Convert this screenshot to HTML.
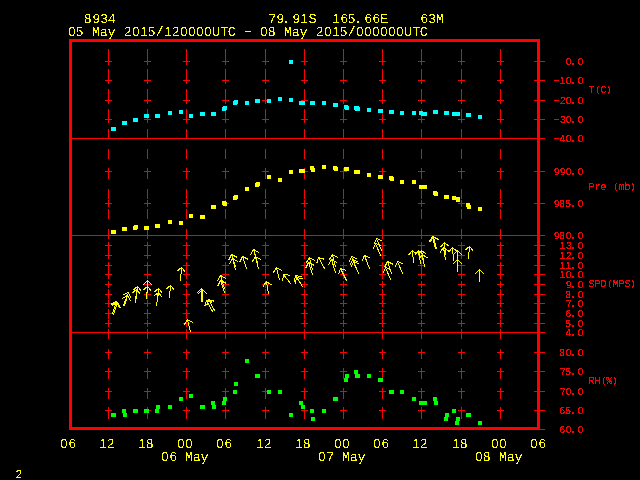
<!DOCTYPE html>
<html><head><meta charset="utf-8"><style>
html,body{margin:0;padding:0;background:#000;}
body{width:640px;height:480px;overflow:hidden;}
svg{display:block;}
text{font-family:"Liberation Mono",monospace;white-space:pre;text-rendering:geometricPrecision;}
text.b{font-size:13.333px;}
text.s{font-size:10px;}
</style></head><body>
<svg width="640" height="480" viewBox="0 0 640 480" shape-rendering="crispEdges">
<rect x="0" y="0" width="640" height="480" fill="#000"/>
<rect x="108" y="49" width="1" height="10" fill="#ff0000"/>
<rect x="108" y="69" width="1" height="10" fill="#ff0000"/>
<rect x="108" y="89" width="1" height="10" fill="#ff0000"/>
<rect x="108" y="109" width="1" height="10" fill="#ff0000"/>
<rect x="108" y="129" width="1" height="10" fill="#ff0000"/>
<rect x="108" y="149" width="1" height="10" fill="#ff0000"/>
<rect x="108" y="169" width="1" height="10" fill="#ff0000"/>
<rect x="108" y="189" width="1" height="10" fill="#ff0000"/>
<rect x="108" y="209" width="1" height="10" fill="#ff0000"/>
<rect x="108" y="229" width="1" height="10" fill="#ff0000"/>
<rect x="108" y="249" width="1" height="10" fill="#ff0000"/>
<rect x="108" y="269" width="1" height="10" fill="#ff0000"/>
<rect x="108" y="289" width="1" height="10" fill="#ff0000"/>
<rect x="108" y="309" width="1" height="10" fill="#ff0000"/>
<rect x="108" y="329" width="1" height="10" fill="#ff0000"/>
<rect x="108" y="349" width="1" height="10" fill="#ff0000"/>
<rect x="108" y="369" width="1" height="10" fill="#ff0000"/>
<rect x="108" y="389" width="1" height="10" fill="#ff0000"/>
<rect x="108" y="409" width="1" height="10" fill="#ff0000"/>
<rect x="147" y="49" width="1" height="10" fill="#ff0000"/>
<rect x="147" y="69" width="1" height="10" fill="#ff0000"/>
<rect x="147" y="89" width="1" height="10" fill="#ff0000"/>
<rect x="147" y="109" width="1" height="10" fill="#ff0000"/>
<rect x="147" y="129" width="1" height="10" fill="#ff0000"/>
<rect x="147" y="149" width="1" height="10" fill="#ff0000"/>
<rect x="147" y="169" width="1" height="10" fill="#ff0000"/>
<rect x="147" y="189" width="1" height="10" fill="#ff0000"/>
<rect x="147" y="209" width="1" height="10" fill="#ff0000"/>
<rect x="147" y="229" width="1" height="10" fill="#ff0000"/>
<rect x="147" y="249" width="1" height="10" fill="#ff0000"/>
<rect x="147" y="269" width="1" height="10" fill="#ff0000"/>
<rect x="147" y="289" width="1" height="10" fill="#ff0000"/>
<rect x="147" y="309" width="1" height="10" fill="#ff0000"/>
<rect x="147" y="329" width="1" height="10" fill="#ff0000"/>
<rect x="147" y="349" width="1" height="10" fill="#ff0000"/>
<rect x="147" y="369" width="1" height="10" fill="#ff0000"/>
<rect x="147" y="389" width="1" height="10" fill="#ff0000"/>
<rect x="147" y="409" width="1" height="10" fill="#ff0000"/>
<rect x="186" y="49" width="1" height="10" fill="#ff0000"/>
<rect x="186" y="69" width="1" height="10" fill="#ff0000"/>
<rect x="186" y="89" width="1" height="10" fill="#ff0000"/>
<rect x="186" y="109" width="1" height="10" fill="#ff0000"/>
<rect x="186" y="129" width="1" height="10" fill="#ff0000"/>
<rect x="186" y="149" width="1" height="10" fill="#ff0000"/>
<rect x="186" y="169" width="1" height="10" fill="#ff0000"/>
<rect x="186" y="189" width="1" height="10" fill="#ff0000"/>
<rect x="186" y="209" width="1" height="10" fill="#ff0000"/>
<rect x="186" y="229" width="1" height="10" fill="#ff0000"/>
<rect x="186" y="249" width="1" height="10" fill="#ff0000"/>
<rect x="186" y="269" width="1" height="10" fill="#ff0000"/>
<rect x="186" y="289" width="1" height="10" fill="#ff0000"/>
<rect x="186" y="309" width="1" height="10" fill="#ff0000"/>
<rect x="186" y="329" width="1" height="10" fill="#ff0000"/>
<rect x="186" y="349" width="1" height="10" fill="#ff0000"/>
<rect x="186" y="369" width="1" height="10" fill="#ff0000"/>
<rect x="186" y="389" width="1" height="10" fill="#ff0000"/>
<rect x="186" y="409" width="1" height="10" fill="#ff0000"/>
<rect x="225" y="49" width="1" height="10" fill="#ff0000"/>
<rect x="225" y="69" width="1" height="10" fill="#ff0000"/>
<rect x="225" y="89" width="1" height="10" fill="#ff0000"/>
<rect x="225" y="109" width="1" height="10" fill="#ff0000"/>
<rect x="225" y="129" width="1" height="10" fill="#ff0000"/>
<rect x="225" y="149" width="1" height="10" fill="#ff0000"/>
<rect x="225" y="169" width="1" height="10" fill="#ff0000"/>
<rect x="225" y="189" width="1" height="10" fill="#ff0000"/>
<rect x="225" y="209" width="1" height="10" fill="#ff0000"/>
<rect x="225" y="229" width="1" height="10" fill="#ff0000"/>
<rect x="225" y="249" width="1" height="10" fill="#ff0000"/>
<rect x="225" y="269" width="1" height="10" fill="#ff0000"/>
<rect x="225" y="289" width="1" height="10" fill="#ff0000"/>
<rect x="225" y="309" width="1" height="10" fill="#ff0000"/>
<rect x="225" y="329" width="1" height="10" fill="#ff0000"/>
<rect x="225" y="349" width="1" height="10" fill="#ff0000"/>
<rect x="225" y="369" width="1" height="10" fill="#ff0000"/>
<rect x="225" y="389" width="1" height="10" fill="#ff0000"/>
<rect x="225" y="409" width="1" height="10" fill="#ff0000"/>
<rect x="265" y="49" width="1" height="10" fill="#ff0000"/>
<rect x="265" y="69" width="1" height="10" fill="#ff0000"/>
<rect x="265" y="89" width="1" height="10" fill="#ff0000"/>
<rect x="265" y="109" width="1" height="10" fill="#ff0000"/>
<rect x="265" y="129" width="1" height="10" fill="#ff0000"/>
<rect x="265" y="149" width="1" height="10" fill="#ff0000"/>
<rect x="265" y="169" width="1" height="10" fill="#ff0000"/>
<rect x="265" y="189" width="1" height="10" fill="#ff0000"/>
<rect x="265" y="209" width="1" height="10" fill="#ff0000"/>
<rect x="265" y="229" width="1" height="10" fill="#ff0000"/>
<rect x="265" y="249" width="1" height="10" fill="#ff0000"/>
<rect x="265" y="269" width="1" height="10" fill="#ff0000"/>
<rect x="265" y="289" width="1" height="10" fill="#ff0000"/>
<rect x="265" y="309" width="1" height="10" fill="#ff0000"/>
<rect x="265" y="329" width="1" height="10" fill="#ff0000"/>
<rect x="265" y="349" width="1" height="10" fill="#ff0000"/>
<rect x="265" y="369" width="1" height="10" fill="#ff0000"/>
<rect x="265" y="389" width="1" height="10" fill="#ff0000"/>
<rect x="265" y="409" width="1" height="10" fill="#ff0000"/>
<rect x="304" y="49" width="1" height="10" fill="#ff0000"/>
<rect x="304" y="69" width="1" height="10" fill="#ff0000"/>
<rect x="304" y="89" width="1" height="10" fill="#ff0000"/>
<rect x="304" y="109" width="1" height="10" fill="#ff0000"/>
<rect x="304" y="129" width="1" height="10" fill="#ff0000"/>
<rect x="304" y="149" width="1" height="10" fill="#ff0000"/>
<rect x="304" y="169" width="1" height="10" fill="#ff0000"/>
<rect x="304" y="189" width="1" height="10" fill="#ff0000"/>
<rect x="304" y="209" width="1" height="10" fill="#ff0000"/>
<rect x="304" y="229" width="1" height="10" fill="#ff0000"/>
<rect x="304" y="249" width="1" height="10" fill="#ff0000"/>
<rect x="304" y="269" width="1" height="10" fill="#ff0000"/>
<rect x="304" y="289" width="1" height="10" fill="#ff0000"/>
<rect x="304" y="309" width="1" height="10" fill="#ff0000"/>
<rect x="304" y="329" width="1" height="10" fill="#ff0000"/>
<rect x="304" y="349" width="1" height="10" fill="#ff0000"/>
<rect x="304" y="369" width="1" height="10" fill="#ff0000"/>
<rect x="304" y="389" width="1" height="10" fill="#ff0000"/>
<rect x="304" y="409" width="1" height="10" fill="#ff0000"/>
<rect x="343" y="49" width="1" height="10" fill="#ff0000"/>
<rect x="343" y="69" width="1" height="10" fill="#ff0000"/>
<rect x="343" y="89" width="1" height="10" fill="#ff0000"/>
<rect x="343" y="109" width="1" height="10" fill="#ff0000"/>
<rect x="343" y="129" width="1" height="10" fill="#ff0000"/>
<rect x="343" y="149" width="1" height="10" fill="#ff0000"/>
<rect x="343" y="169" width="1" height="10" fill="#ff0000"/>
<rect x="343" y="189" width="1" height="10" fill="#ff0000"/>
<rect x="343" y="209" width="1" height="10" fill="#ff0000"/>
<rect x="343" y="229" width="1" height="10" fill="#ff0000"/>
<rect x="343" y="249" width="1" height="10" fill="#ff0000"/>
<rect x="343" y="269" width="1" height="10" fill="#ff0000"/>
<rect x="343" y="289" width="1" height="10" fill="#ff0000"/>
<rect x="343" y="309" width="1" height="10" fill="#ff0000"/>
<rect x="343" y="329" width="1" height="10" fill="#ff0000"/>
<rect x="343" y="349" width="1" height="10" fill="#ff0000"/>
<rect x="343" y="369" width="1" height="10" fill="#ff0000"/>
<rect x="343" y="389" width="1" height="10" fill="#ff0000"/>
<rect x="343" y="409" width="1" height="10" fill="#ff0000"/>
<rect x="382" y="49" width="1" height="10" fill="#ff0000"/>
<rect x="382" y="69" width="1" height="10" fill="#ff0000"/>
<rect x="382" y="89" width="1" height="10" fill="#ff0000"/>
<rect x="382" y="109" width="1" height="10" fill="#ff0000"/>
<rect x="382" y="129" width="1" height="10" fill="#ff0000"/>
<rect x="382" y="149" width="1" height="10" fill="#ff0000"/>
<rect x="382" y="169" width="1" height="10" fill="#ff0000"/>
<rect x="382" y="189" width="1" height="10" fill="#ff0000"/>
<rect x="382" y="209" width="1" height="10" fill="#ff0000"/>
<rect x="382" y="229" width="1" height="10" fill="#ff0000"/>
<rect x="382" y="249" width="1" height="10" fill="#ff0000"/>
<rect x="382" y="269" width="1" height="10" fill="#ff0000"/>
<rect x="382" y="289" width="1" height="10" fill="#ff0000"/>
<rect x="382" y="309" width="1" height="10" fill="#ff0000"/>
<rect x="382" y="329" width="1" height="10" fill="#ff0000"/>
<rect x="382" y="349" width="1" height="10" fill="#ff0000"/>
<rect x="382" y="369" width="1" height="10" fill="#ff0000"/>
<rect x="382" y="389" width="1" height="10" fill="#ff0000"/>
<rect x="382" y="409" width="1" height="10" fill="#ff0000"/>
<rect x="421" y="49" width="1" height="10" fill="#ff0000"/>
<rect x="421" y="69" width="1" height="10" fill="#ff0000"/>
<rect x="421" y="89" width="1" height="10" fill="#ff0000"/>
<rect x="421" y="109" width="1" height="10" fill="#ff0000"/>
<rect x="421" y="129" width="1" height="10" fill="#ff0000"/>
<rect x="421" y="149" width="1" height="10" fill="#ff0000"/>
<rect x="421" y="169" width="1" height="10" fill="#ff0000"/>
<rect x="421" y="189" width="1" height="10" fill="#ff0000"/>
<rect x="421" y="209" width="1" height="10" fill="#ff0000"/>
<rect x="421" y="229" width="1" height="10" fill="#ff0000"/>
<rect x="421" y="249" width="1" height="10" fill="#ff0000"/>
<rect x="421" y="269" width="1" height="10" fill="#ff0000"/>
<rect x="421" y="289" width="1" height="10" fill="#ff0000"/>
<rect x="421" y="309" width="1" height="10" fill="#ff0000"/>
<rect x="421" y="329" width="1" height="10" fill="#ff0000"/>
<rect x="421" y="349" width="1" height="10" fill="#ff0000"/>
<rect x="421" y="369" width="1" height="10" fill="#ff0000"/>
<rect x="421" y="389" width="1" height="10" fill="#ff0000"/>
<rect x="421" y="409" width="1" height="10" fill="#ff0000"/>
<rect x="461" y="49" width="1" height="10" fill="#ff0000"/>
<rect x="461" y="69" width="1" height="10" fill="#ff0000"/>
<rect x="461" y="89" width="1" height="10" fill="#ff0000"/>
<rect x="461" y="109" width="1" height="10" fill="#ff0000"/>
<rect x="461" y="129" width="1" height="10" fill="#ff0000"/>
<rect x="461" y="149" width="1" height="10" fill="#ff0000"/>
<rect x="461" y="169" width="1" height="10" fill="#ff0000"/>
<rect x="461" y="189" width="1" height="10" fill="#ff0000"/>
<rect x="461" y="209" width="1" height="10" fill="#ff0000"/>
<rect x="461" y="229" width="1" height="10" fill="#ff0000"/>
<rect x="461" y="249" width="1" height="10" fill="#ff0000"/>
<rect x="461" y="269" width="1" height="10" fill="#ff0000"/>
<rect x="461" y="289" width="1" height="10" fill="#ff0000"/>
<rect x="461" y="309" width="1" height="10" fill="#ff0000"/>
<rect x="461" y="329" width="1" height="10" fill="#ff0000"/>
<rect x="461" y="349" width="1" height="10" fill="#ff0000"/>
<rect x="461" y="369" width="1" height="10" fill="#ff0000"/>
<rect x="461" y="389" width="1" height="10" fill="#ff0000"/>
<rect x="461" y="409" width="1" height="10" fill="#ff0000"/>
<rect x="500" y="49" width="1" height="10" fill="#ff0000"/>
<rect x="500" y="69" width="1" height="10" fill="#ff0000"/>
<rect x="500" y="89" width="1" height="10" fill="#ff0000"/>
<rect x="500" y="109" width="1" height="10" fill="#ff0000"/>
<rect x="500" y="129" width="1" height="10" fill="#ff0000"/>
<rect x="500" y="149" width="1" height="10" fill="#ff0000"/>
<rect x="500" y="169" width="1" height="10" fill="#ff0000"/>
<rect x="500" y="189" width="1" height="10" fill="#ff0000"/>
<rect x="500" y="209" width="1" height="10" fill="#ff0000"/>
<rect x="500" y="229" width="1" height="10" fill="#ff0000"/>
<rect x="500" y="249" width="1" height="10" fill="#ff0000"/>
<rect x="500" y="269" width="1" height="10" fill="#ff0000"/>
<rect x="500" y="289" width="1" height="10" fill="#ff0000"/>
<rect x="500" y="309" width="1" height="10" fill="#ff0000"/>
<rect x="500" y="329" width="1" height="10" fill="#ff0000"/>
<rect x="500" y="349" width="1" height="10" fill="#ff0000"/>
<rect x="500" y="369" width="1" height="10" fill="#ff0000"/>
<rect x="500" y="389" width="1" height="10" fill="#ff0000"/>
<rect x="500" y="409" width="1" height="10" fill="#ff0000"/>
<rect x="105" y="61" width="7" height="1" fill="#ff0000"/>
<rect x="108" y="58" width="1" height="7" fill="#ff0000"/>
<rect x="105" y="80" width="7" height="1" fill="#ff0000"/>
<rect x="108" y="77" width="1" height="7" fill="#ff0000"/>
<rect x="105" y="100" width="7" height="1" fill="#ff0000"/>
<rect x="108" y="97" width="1" height="7" fill="#ff0000"/>
<rect x="105" y="119" width="7" height="1" fill="#ff0000"/>
<rect x="108" y="116" width="1" height="7" fill="#ff0000"/>
<rect x="105" y="171" width="7" height="1" fill="#ff0000"/>
<rect x="108" y="168" width="1" height="7" fill="#ff0000"/>
<rect x="105" y="203" width="7" height="1" fill="#ff0000"/>
<rect x="108" y="200" width="1" height="7" fill="#ff0000"/>
<rect x="105" y="245" width="7" height="1" fill="#ff0000"/>
<rect x="108" y="242" width="1" height="7" fill="#ff0000"/>
<rect x="105" y="255" width="7" height="1" fill="#ff0000"/>
<rect x="108" y="252" width="1" height="7" fill="#ff0000"/>
<rect x="105" y="265" width="7" height="1" fill="#ff0000"/>
<rect x="108" y="262" width="1" height="7" fill="#ff0000"/>
<rect x="105" y="274" width="7" height="1" fill="#ff0000"/>
<rect x="108" y="271" width="1" height="7" fill="#ff0000"/>
<rect x="105" y="284" width="7" height="1" fill="#ff0000"/>
<rect x="108" y="281" width="1" height="7" fill="#ff0000"/>
<rect x="105" y="294" width="7" height="1" fill="#ff0000"/>
<rect x="108" y="291" width="1" height="7" fill="#ff0000"/>
<rect x="105" y="303" width="7" height="1" fill="#ff0000"/>
<rect x="108" y="300" width="1" height="7" fill="#ff0000"/>
<rect x="105" y="313" width="7" height="1" fill="#ff0000"/>
<rect x="108" y="310" width="1" height="7" fill="#ff0000"/>
<rect x="105" y="323" width="7" height="1" fill="#ff0000"/>
<rect x="108" y="320" width="1" height="7" fill="#ff0000"/>
<rect x="105" y="352" width="7" height="1" fill="#ff0000"/>
<rect x="108" y="349" width="1" height="7" fill="#ff0000"/>
<rect x="105" y="371" width="7" height="1" fill="#ff0000"/>
<rect x="108" y="368" width="1" height="7" fill="#ff0000"/>
<rect x="105" y="391" width="7" height="1" fill="#ff0000"/>
<rect x="108" y="388" width="1" height="7" fill="#ff0000"/>
<rect x="105" y="410" width="7" height="1" fill="#ff0000"/>
<rect x="108" y="407" width="1" height="7" fill="#ff0000"/>
<rect x="144" y="61" width="7" height="1" fill="#ff0000"/>
<rect x="147" y="58" width="1" height="7" fill="#ff0000"/>
<rect x="144" y="80" width="7" height="1" fill="#ff0000"/>
<rect x="147" y="77" width="1" height="7" fill="#ff0000"/>
<rect x="144" y="100" width="7" height="1" fill="#ff0000"/>
<rect x="147" y="97" width="1" height="7" fill="#ff0000"/>
<rect x="144" y="119" width="7" height="1" fill="#ff0000"/>
<rect x="147" y="116" width="1" height="7" fill="#ff0000"/>
<rect x="144" y="171" width="7" height="1" fill="#ff0000"/>
<rect x="147" y="168" width="1" height="7" fill="#ff0000"/>
<rect x="144" y="203" width="7" height="1" fill="#ff0000"/>
<rect x="147" y="200" width="1" height="7" fill="#ff0000"/>
<rect x="144" y="245" width="7" height="1" fill="#ff0000"/>
<rect x="147" y="242" width="1" height="7" fill="#ff0000"/>
<rect x="144" y="255" width="7" height="1" fill="#ff0000"/>
<rect x="147" y="252" width="1" height="7" fill="#ff0000"/>
<rect x="144" y="265" width="7" height="1" fill="#ff0000"/>
<rect x="147" y="262" width="1" height="7" fill="#ff0000"/>
<rect x="144" y="274" width="7" height="1" fill="#ff0000"/>
<rect x="147" y="271" width="1" height="7" fill="#ff0000"/>
<rect x="144" y="284" width="7" height="1" fill="#ff0000"/>
<rect x="147" y="281" width="1" height="7" fill="#ff0000"/>
<rect x="144" y="294" width="7" height="1" fill="#ff0000"/>
<rect x="147" y="291" width="1" height="7" fill="#ff0000"/>
<rect x="144" y="303" width="7" height="1" fill="#ff0000"/>
<rect x="147" y="300" width="1" height="7" fill="#ff0000"/>
<rect x="144" y="313" width="7" height="1" fill="#ff0000"/>
<rect x="147" y="310" width="1" height="7" fill="#ff0000"/>
<rect x="144" y="323" width="7" height="1" fill="#ff0000"/>
<rect x="147" y="320" width="1" height="7" fill="#ff0000"/>
<rect x="144" y="352" width="7" height="1" fill="#ff0000"/>
<rect x="147" y="349" width="1" height="7" fill="#ff0000"/>
<rect x="144" y="371" width="7" height="1" fill="#ff0000"/>
<rect x="147" y="368" width="1" height="7" fill="#ff0000"/>
<rect x="144" y="391" width="7" height="1" fill="#ff0000"/>
<rect x="147" y="388" width="1" height="7" fill="#ff0000"/>
<rect x="144" y="410" width="7" height="1" fill="#ff0000"/>
<rect x="147" y="407" width="1" height="7" fill="#ff0000"/>
<rect x="183" y="61" width="7" height="1" fill="#ff0000"/>
<rect x="186" y="58" width="1" height="7" fill="#ff0000"/>
<rect x="183" y="80" width="7" height="1" fill="#ff0000"/>
<rect x="186" y="77" width="1" height="7" fill="#ff0000"/>
<rect x="183" y="100" width="7" height="1" fill="#ff0000"/>
<rect x="186" y="97" width="1" height="7" fill="#ff0000"/>
<rect x="183" y="119" width="7" height="1" fill="#ff0000"/>
<rect x="186" y="116" width="1" height="7" fill="#ff0000"/>
<rect x="183" y="171" width="7" height="1" fill="#ff0000"/>
<rect x="186" y="168" width="1" height="7" fill="#ff0000"/>
<rect x="183" y="203" width="7" height="1" fill="#ff0000"/>
<rect x="186" y="200" width="1" height="7" fill="#ff0000"/>
<rect x="183" y="245" width="7" height="1" fill="#ff0000"/>
<rect x="186" y="242" width="1" height="7" fill="#ff0000"/>
<rect x="183" y="255" width="7" height="1" fill="#ff0000"/>
<rect x="186" y="252" width="1" height="7" fill="#ff0000"/>
<rect x="183" y="265" width="7" height="1" fill="#ff0000"/>
<rect x="186" y="262" width="1" height="7" fill="#ff0000"/>
<rect x="183" y="274" width="7" height="1" fill="#ff0000"/>
<rect x="186" y="271" width="1" height="7" fill="#ff0000"/>
<rect x="183" y="284" width="7" height="1" fill="#ff0000"/>
<rect x="186" y="281" width="1" height="7" fill="#ff0000"/>
<rect x="183" y="294" width="7" height="1" fill="#ff0000"/>
<rect x="186" y="291" width="1" height="7" fill="#ff0000"/>
<rect x="183" y="303" width="7" height="1" fill="#ff0000"/>
<rect x="186" y="300" width="1" height="7" fill="#ff0000"/>
<rect x="183" y="313" width="7" height="1" fill="#ff0000"/>
<rect x="186" y="310" width="1" height="7" fill="#ff0000"/>
<rect x="183" y="323" width="7" height="1" fill="#ff0000"/>
<rect x="186" y="320" width="1" height="7" fill="#ff0000"/>
<rect x="183" y="352" width="7" height="1" fill="#ff0000"/>
<rect x="186" y="349" width="1" height="7" fill="#ff0000"/>
<rect x="183" y="371" width="7" height="1" fill="#ff0000"/>
<rect x="186" y="368" width="1" height="7" fill="#ff0000"/>
<rect x="183" y="391" width="7" height="1" fill="#ff0000"/>
<rect x="186" y="388" width="1" height="7" fill="#ff0000"/>
<rect x="183" y="410" width="7" height="1" fill="#ff0000"/>
<rect x="186" y="407" width="1" height="7" fill="#ff0000"/>
<rect x="222" y="61" width="7" height="1" fill="#ff0000"/>
<rect x="225" y="58" width="1" height="7" fill="#ff0000"/>
<rect x="222" y="80" width="7" height="1" fill="#ff0000"/>
<rect x="225" y="77" width="1" height="7" fill="#ff0000"/>
<rect x="222" y="100" width="7" height="1" fill="#ff0000"/>
<rect x="225" y="97" width="1" height="7" fill="#ff0000"/>
<rect x="222" y="119" width="7" height="1" fill="#ff0000"/>
<rect x="225" y="116" width="1" height="7" fill="#ff0000"/>
<rect x="222" y="171" width="7" height="1" fill="#ff0000"/>
<rect x="225" y="168" width="1" height="7" fill="#ff0000"/>
<rect x="222" y="203" width="7" height="1" fill="#ff0000"/>
<rect x="225" y="200" width="1" height="7" fill="#ff0000"/>
<rect x="222" y="245" width="7" height="1" fill="#ff0000"/>
<rect x="225" y="242" width="1" height="7" fill="#ff0000"/>
<rect x="222" y="255" width="7" height="1" fill="#ff0000"/>
<rect x="225" y="252" width="1" height="7" fill="#ff0000"/>
<rect x="222" y="265" width="7" height="1" fill="#ff0000"/>
<rect x="225" y="262" width="1" height="7" fill="#ff0000"/>
<rect x="222" y="274" width="7" height="1" fill="#ff0000"/>
<rect x="225" y="271" width="1" height="7" fill="#ff0000"/>
<rect x="222" y="284" width="7" height="1" fill="#ff0000"/>
<rect x="225" y="281" width="1" height="7" fill="#ff0000"/>
<rect x="222" y="294" width="7" height="1" fill="#ff0000"/>
<rect x="225" y="291" width="1" height="7" fill="#ff0000"/>
<rect x="222" y="303" width="7" height="1" fill="#ff0000"/>
<rect x="225" y="300" width="1" height="7" fill="#ff0000"/>
<rect x="222" y="313" width="7" height="1" fill="#ff0000"/>
<rect x="225" y="310" width="1" height="7" fill="#ff0000"/>
<rect x="222" y="323" width="7" height="1" fill="#ff0000"/>
<rect x="225" y="320" width="1" height="7" fill="#ff0000"/>
<rect x="222" y="352" width="7" height="1" fill="#ff0000"/>
<rect x="225" y="349" width="1" height="7" fill="#ff0000"/>
<rect x="222" y="371" width="7" height="1" fill="#ff0000"/>
<rect x="225" y="368" width="1" height="7" fill="#ff0000"/>
<rect x="222" y="391" width="7" height="1" fill="#ff0000"/>
<rect x="225" y="388" width="1" height="7" fill="#ff0000"/>
<rect x="222" y="410" width="7" height="1" fill="#ff0000"/>
<rect x="225" y="407" width="1" height="7" fill="#ff0000"/>
<rect x="262" y="61" width="7" height="1" fill="#ff0000"/>
<rect x="265" y="58" width="1" height="7" fill="#ff0000"/>
<rect x="262" y="80" width="7" height="1" fill="#ff0000"/>
<rect x="265" y="77" width="1" height="7" fill="#ff0000"/>
<rect x="262" y="100" width="7" height="1" fill="#ff0000"/>
<rect x="265" y="97" width="1" height="7" fill="#ff0000"/>
<rect x="262" y="119" width="7" height="1" fill="#ff0000"/>
<rect x="265" y="116" width="1" height="7" fill="#ff0000"/>
<rect x="262" y="171" width="7" height="1" fill="#ff0000"/>
<rect x="265" y="168" width="1" height="7" fill="#ff0000"/>
<rect x="262" y="203" width="7" height="1" fill="#ff0000"/>
<rect x="265" y="200" width="1" height="7" fill="#ff0000"/>
<rect x="262" y="245" width="7" height="1" fill="#ff0000"/>
<rect x="265" y="242" width="1" height="7" fill="#ff0000"/>
<rect x="262" y="255" width="7" height="1" fill="#ff0000"/>
<rect x="265" y="252" width="1" height="7" fill="#ff0000"/>
<rect x="262" y="265" width="7" height="1" fill="#ff0000"/>
<rect x="265" y="262" width="1" height="7" fill="#ff0000"/>
<rect x="262" y="274" width="7" height="1" fill="#ff0000"/>
<rect x="265" y="271" width="1" height="7" fill="#ff0000"/>
<rect x="262" y="284" width="7" height="1" fill="#ff0000"/>
<rect x="265" y="281" width="1" height="7" fill="#ff0000"/>
<rect x="262" y="294" width="7" height="1" fill="#ff0000"/>
<rect x="265" y="291" width="1" height="7" fill="#ff0000"/>
<rect x="262" y="303" width="7" height="1" fill="#ff0000"/>
<rect x="265" y="300" width="1" height="7" fill="#ff0000"/>
<rect x="262" y="313" width="7" height="1" fill="#ff0000"/>
<rect x="265" y="310" width="1" height="7" fill="#ff0000"/>
<rect x="262" y="323" width="7" height="1" fill="#ff0000"/>
<rect x="265" y="320" width="1" height="7" fill="#ff0000"/>
<rect x="262" y="352" width="7" height="1" fill="#ff0000"/>
<rect x="265" y="349" width="1" height="7" fill="#ff0000"/>
<rect x="262" y="371" width="7" height="1" fill="#ff0000"/>
<rect x="265" y="368" width="1" height="7" fill="#ff0000"/>
<rect x="262" y="391" width="7" height="1" fill="#ff0000"/>
<rect x="265" y="388" width="1" height="7" fill="#ff0000"/>
<rect x="262" y="410" width="7" height="1" fill="#ff0000"/>
<rect x="265" y="407" width="1" height="7" fill="#ff0000"/>
<rect x="301" y="61" width="7" height="1" fill="#ff0000"/>
<rect x="304" y="58" width="1" height="7" fill="#ff0000"/>
<rect x="301" y="80" width="7" height="1" fill="#ff0000"/>
<rect x="304" y="77" width="1" height="7" fill="#ff0000"/>
<rect x="301" y="100" width="7" height="1" fill="#ff0000"/>
<rect x="304" y="97" width="1" height="7" fill="#ff0000"/>
<rect x="301" y="119" width="7" height="1" fill="#ff0000"/>
<rect x="304" y="116" width="1" height="7" fill="#ff0000"/>
<rect x="301" y="171" width="7" height="1" fill="#ff0000"/>
<rect x="304" y="168" width="1" height="7" fill="#ff0000"/>
<rect x="301" y="203" width="7" height="1" fill="#ff0000"/>
<rect x="304" y="200" width="1" height="7" fill="#ff0000"/>
<rect x="301" y="245" width="7" height="1" fill="#ff0000"/>
<rect x="304" y="242" width="1" height="7" fill="#ff0000"/>
<rect x="301" y="255" width="7" height="1" fill="#ff0000"/>
<rect x="304" y="252" width="1" height="7" fill="#ff0000"/>
<rect x="301" y="265" width="7" height="1" fill="#ff0000"/>
<rect x="304" y="262" width="1" height="7" fill="#ff0000"/>
<rect x="301" y="274" width="7" height="1" fill="#ff0000"/>
<rect x="304" y="271" width="1" height="7" fill="#ff0000"/>
<rect x="301" y="284" width="7" height="1" fill="#ff0000"/>
<rect x="304" y="281" width="1" height="7" fill="#ff0000"/>
<rect x="301" y="294" width="7" height="1" fill="#ff0000"/>
<rect x="304" y="291" width="1" height="7" fill="#ff0000"/>
<rect x="301" y="303" width="7" height="1" fill="#ff0000"/>
<rect x="304" y="300" width="1" height="7" fill="#ff0000"/>
<rect x="301" y="313" width="7" height="1" fill="#ff0000"/>
<rect x="304" y="310" width="1" height="7" fill="#ff0000"/>
<rect x="301" y="323" width="7" height="1" fill="#ff0000"/>
<rect x="304" y="320" width="1" height="7" fill="#ff0000"/>
<rect x="301" y="352" width="7" height="1" fill="#ff0000"/>
<rect x="304" y="349" width="1" height="7" fill="#ff0000"/>
<rect x="301" y="371" width="7" height="1" fill="#ff0000"/>
<rect x="304" y="368" width="1" height="7" fill="#ff0000"/>
<rect x="301" y="391" width="7" height="1" fill="#ff0000"/>
<rect x="304" y="388" width="1" height="7" fill="#ff0000"/>
<rect x="301" y="410" width="7" height="1" fill="#ff0000"/>
<rect x="304" y="407" width="1" height="7" fill="#ff0000"/>
<rect x="340" y="61" width="7" height="1" fill="#ff0000"/>
<rect x="343" y="58" width="1" height="7" fill="#ff0000"/>
<rect x="340" y="80" width="7" height="1" fill="#ff0000"/>
<rect x="343" y="77" width="1" height="7" fill="#ff0000"/>
<rect x="340" y="100" width="7" height="1" fill="#ff0000"/>
<rect x="343" y="97" width="1" height="7" fill="#ff0000"/>
<rect x="340" y="119" width="7" height="1" fill="#ff0000"/>
<rect x="343" y="116" width="1" height="7" fill="#ff0000"/>
<rect x="340" y="171" width="7" height="1" fill="#ff0000"/>
<rect x="343" y="168" width="1" height="7" fill="#ff0000"/>
<rect x="340" y="203" width="7" height="1" fill="#ff0000"/>
<rect x="343" y="200" width="1" height="7" fill="#ff0000"/>
<rect x="340" y="245" width="7" height="1" fill="#ff0000"/>
<rect x="343" y="242" width="1" height="7" fill="#ff0000"/>
<rect x="340" y="255" width="7" height="1" fill="#ff0000"/>
<rect x="343" y="252" width="1" height="7" fill="#ff0000"/>
<rect x="340" y="265" width="7" height="1" fill="#ff0000"/>
<rect x="343" y="262" width="1" height="7" fill="#ff0000"/>
<rect x="340" y="274" width="7" height="1" fill="#ff0000"/>
<rect x="343" y="271" width="1" height="7" fill="#ff0000"/>
<rect x="340" y="284" width="7" height="1" fill="#ff0000"/>
<rect x="343" y="281" width="1" height="7" fill="#ff0000"/>
<rect x="340" y="294" width="7" height="1" fill="#ff0000"/>
<rect x="343" y="291" width="1" height="7" fill="#ff0000"/>
<rect x="340" y="303" width="7" height="1" fill="#ff0000"/>
<rect x="343" y="300" width="1" height="7" fill="#ff0000"/>
<rect x="340" y="313" width="7" height="1" fill="#ff0000"/>
<rect x="343" y="310" width="1" height="7" fill="#ff0000"/>
<rect x="340" y="323" width="7" height="1" fill="#ff0000"/>
<rect x="343" y="320" width="1" height="7" fill="#ff0000"/>
<rect x="340" y="352" width="7" height="1" fill="#ff0000"/>
<rect x="343" y="349" width="1" height="7" fill="#ff0000"/>
<rect x="340" y="371" width="7" height="1" fill="#ff0000"/>
<rect x="343" y="368" width="1" height="7" fill="#ff0000"/>
<rect x="340" y="391" width="7" height="1" fill="#ff0000"/>
<rect x="343" y="388" width="1" height="7" fill="#ff0000"/>
<rect x="340" y="410" width="7" height="1" fill="#ff0000"/>
<rect x="343" y="407" width="1" height="7" fill="#ff0000"/>
<rect x="379" y="61" width="7" height="1" fill="#ff0000"/>
<rect x="382" y="58" width="1" height="7" fill="#ff0000"/>
<rect x="379" y="80" width="7" height="1" fill="#ff0000"/>
<rect x="382" y="77" width="1" height="7" fill="#ff0000"/>
<rect x="379" y="100" width="7" height="1" fill="#ff0000"/>
<rect x="382" y="97" width="1" height="7" fill="#ff0000"/>
<rect x="379" y="119" width="7" height="1" fill="#ff0000"/>
<rect x="382" y="116" width="1" height="7" fill="#ff0000"/>
<rect x="379" y="171" width="7" height="1" fill="#ff0000"/>
<rect x="382" y="168" width="1" height="7" fill="#ff0000"/>
<rect x="379" y="203" width="7" height="1" fill="#ff0000"/>
<rect x="382" y="200" width="1" height="7" fill="#ff0000"/>
<rect x="379" y="245" width="7" height="1" fill="#ff0000"/>
<rect x="382" y="242" width="1" height="7" fill="#ff0000"/>
<rect x="379" y="255" width="7" height="1" fill="#ff0000"/>
<rect x="382" y="252" width="1" height="7" fill="#ff0000"/>
<rect x="379" y="265" width="7" height="1" fill="#ff0000"/>
<rect x="382" y="262" width="1" height="7" fill="#ff0000"/>
<rect x="379" y="274" width="7" height="1" fill="#ff0000"/>
<rect x="382" y="271" width="1" height="7" fill="#ff0000"/>
<rect x="379" y="284" width="7" height="1" fill="#ff0000"/>
<rect x="382" y="281" width="1" height="7" fill="#ff0000"/>
<rect x="379" y="294" width="7" height="1" fill="#ff0000"/>
<rect x="382" y="291" width="1" height="7" fill="#ff0000"/>
<rect x="379" y="303" width="7" height="1" fill="#ff0000"/>
<rect x="382" y="300" width="1" height="7" fill="#ff0000"/>
<rect x="379" y="313" width="7" height="1" fill="#ff0000"/>
<rect x="382" y="310" width="1" height="7" fill="#ff0000"/>
<rect x="379" y="323" width="7" height="1" fill="#ff0000"/>
<rect x="382" y="320" width="1" height="7" fill="#ff0000"/>
<rect x="379" y="352" width="7" height="1" fill="#ff0000"/>
<rect x="382" y="349" width="1" height="7" fill="#ff0000"/>
<rect x="379" y="371" width="7" height="1" fill="#ff0000"/>
<rect x="382" y="368" width="1" height="7" fill="#ff0000"/>
<rect x="379" y="391" width="7" height="1" fill="#ff0000"/>
<rect x="382" y="388" width="1" height="7" fill="#ff0000"/>
<rect x="379" y="410" width="7" height="1" fill="#ff0000"/>
<rect x="382" y="407" width="1" height="7" fill="#ff0000"/>
<rect x="418" y="61" width="7" height="1" fill="#ff0000"/>
<rect x="421" y="58" width="1" height="7" fill="#ff0000"/>
<rect x="418" y="80" width="7" height="1" fill="#ff0000"/>
<rect x="421" y="77" width="1" height="7" fill="#ff0000"/>
<rect x="418" y="100" width="7" height="1" fill="#ff0000"/>
<rect x="421" y="97" width="1" height="7" fill="#ff0000"/>
<rect x="418" y="119" width="7" height="1" fill="#ff0000"/>
<rect x="421" y="116" width="1" height="7" fill="#ff0000"/>
<rect x="418" y="171" width="7" height="1" fill="#ff0000"/>
<rect x="421" y="168" width="1" height="7" fill="#ff0000"/>
<rect x="418" y="203" width="7" height="1" fill="#ff0000"/>
<rect x="421" y="200" width="1" height="7" fill="#ff0000"/>
<rect x="418" y="245" width="7" height="1" fill="#ff0000"/>
<rect x="421" y="242" width="1" height="7" fill="#ff0000"/>
<rect x="418" y="255" width="7" height="1" fill="#ff0000"/>
<rect x="421" y="252" width="1" height="7" fill="#ff0000"/>
<rect x="418" y="265" width="7" height="1" fill="#ff0000"/>
<rect x="421" y="262" width="1" height="7" fill="#ff0000"/>
<rect x="418" y="274" width="7" height="1" fill="#ff0000"/>
<rect x="421" y="271" width="1" height="7" fill="#ff0000"/>
<rect x="418" y="284" width="7" height="1" fill="#ff0000"/>
<rect x="421" y="281" width="1" height="7" fill="#ff0000"/>
<rect x="418" y="294" width="7" height="1" fill="#ff0000"/>
<rect x="421" y="291" width="1" height="7" fill="#ff0000"/>
<rect x="418" y="303" width="7" height="1" fill="#ff0000"/>
<rect x="421" y="300" width="1" height="7" fill="#ff0000"/>
<rect x="418" y="313" width="7" height="1" fill="#ff0000"/>
<rect x="421" y="310" width="1" height="7" fill="#ff0000"/>
<rect x="418" y="323" width="7" height="1" fill="#ff0000"/>
<rect x="421" y="320" width="1" height="7" fill="#ff0000"/>
<rect x="418" y="352" width="7" height="1" fill="#ff0000"/>
<rect x="421" y="349" width="1" height="7" fill="#ff0000"/>
<rect x="418" y="371" width="7" height="1" fill="#ff0000"/>
<rect x="421" y="368" width="1" height="7" fill="#ff0000"/>
<rect x="418" y="391" width="7" height="1" fill="#ff0000"/>
<rect x="421" y="388" width="1" height="7" fill="#ff0000"/>
<rect x="418" y="410" width="7" height="1" fill="#ff0000"/>
<rect x="421" y="407" width="1" height="7" fill="#ff0000"/>
<rect x="458" y="61" width="7" height="1" fill="#ff0000"/>
<rect x="461" y="58" width="1" height="7" fill="#ff0000"/>
<rect x="458" y="80" width="7" height="1" fill="#ff0000"/>
<rect x="461" y="77" width="1" height="7" fill="#ff0000"/>
<rect x="458" y="100" width="7" height="1" fill="#ff0000"/>
<rect x="461" y="97" width="1" height="7" fill="#ff0000"/>
<rect x="458" y="119" width="7" height="1" fill="#ff0000"/>
<rect x="461" y="116" width="1" height="7" fill="#ff0000"/>
<rect x="458" y="171" width="7" height="1" fill="#ff0000"/>
<rect x="461" y="168" width="1" height="7" fill="#ff0000"/>
<rect x="458" y="203" width="7" height="1" fill="#ff0000"/>
<rect x="461" y="200" width="1" height="7" fill="#ff0000"/>
<rect x="458" y="245" width="7" height="1" fill="#ff0000"/>
<rect x="461" y="242" width="1" height="7" fill="#ff0000"/>
<rect x="458" y="255" width="7" height="1" fill="#ff0000"/>
<rect x="461" y="252" width="1" height="7" fill="#ff0000"/>
<rect x="458" y="265" width="7" height="1" fill="#ff0000"/>
<rect x="461" y="262" width="1" height="7" fill="#ff0000"/>
<rect x="458" y="274" width="7" height="1" fill="#ff0000"/>
<rect x="461" y="271" width="1" height="7" fill="#ff0000"/>
<rect x="458" y="284" width="7" height="1" fill="#ff0000"/>
<rect x="461" y="281" width="1" height="7" fill="#ff0000"/>
<rect x="458" y="294" width="7" height="1" fill="#ff0000"/>
<rect x="461" y="291" width="1" height="7" fill="#ff0000"/>
<rect x="458" y="303" width="7" height="1" fill="#ff0000"/>
<rect x="461" y="300" width="1" height="7" fill="#ff0000"/>
<rect x="458" y="313" width="7" height="1" fill="#ff0000"/>
<rect x="461" y="310" width="1" height="7" fill="#ff0000"/>
<rect x="458" y="323" width="7" height="1" fill="#ff0000"/>
<rect x="461" y="320" width="1" height="7" fill="#ff0000"/>
<rect x="458" y="352" width="7" height="1" fill="#ff0000"/>
<rect x="461" y="349" width="1" height="7" fill="#ff0000"/>
<rect x="458" y="371" width="7" height="1" fill="#ff0000"/>
<rect x="461" y="368" width="1" height="7" fill="#ff0000"/>
<rect x="458" y="391" width="7" height="1" fill="#ff0000"/>
<rect x="461" y="388" width="1" height="7" fill="#ff0000"/>
<rect x="458" y="410" width="7" height="1" fill="#ff0000"/>
<rect x="461" y="407" width="1" height="7" fill="#ff0000"/>
<rect x="497" y="61" width="7" height="1" fill="#ff0000"/>
<rect x="500" y="58" width="1" height="7" fill="#ff0000"/>
<rect x="497" y="80" width="7" height="1" fill="#ff0000"/>
<rect x="500" y="77" width="1" height="7" fill="#ff0000"/>
<rect x="497" y="100" width="7" height="1" fill="#ff0000"/>
<rect x="500" y="97" width="1" height="7" fill="#ff0000"/>
<rect x="497" y="119" width="7" height="1" fill="#ff0000"/>
<rect x="500" y="116" width="1" height="7" fill="#ff0000"/>
<rect x="497" y="171" width="7" height="1" fill="#ff0000"/>
<rect x="500" y="168" width="1" height="7" fill="#ff0000"/>
<rect x="497" y="203" width="7" height="1" fill="#ff0000"/>
<rect x="500" y="200" width="1" height="7" fill="#ff0000"/>
<rect x="497" y="245" width="7" height="1" fill="#ff0000"/>
<rect x="500" y="242" width="1" height="7" fill="#ff0000"/>
<rect x="497" y="255" width="7" height="1" fill="#ff0000"/>
<rect x="500" y="252" width="1" height="7" fill="#ff0000"/>
<rect x="497" y="265" width="7" height="1" fill="#ff0000"/>
<rect x="500" y="262" width="1" height="7" fill="#ff0000"/>
<rect x="497" y="274" width="7" height="1" fill="#ff0000"/>
<rect x="500" y="271" width="1" height="7" fill="#ff0000"/>
<rect x="497" y="284" width="7" height="1" fill="#ff0000"/>
<rect x="500" y="281" width="1" height="7" fill="#ff0000"/>
<rect x="497" y="294" width="7" height="1" fill="#ff0000"/>
<rect x="500" y="291" width="1" height="7" fill="#ff0000"/>
<rect x="497" y="303" width="7" height="1" fill="#ff0000"/>
<rect x="500" y="300" width="1" height="7" fill="#ff0000"/>
<rect x="497" y="313" width="7" height="1" fill="#ff0000"/>
<rect x="500" y="310" width="1" height="7" fill="#ff0000"/>
<rect x="497" y="323" width="7" height="1" fill="#ff0000"/>
<rect x="500" y="320" width="1" height="7" fill="#ff0000"/>
<rect x="497" y="352" width="7" height="1" fill="#ff0000"/>
<rect x="500" y="349" width="1" height="7" fill="#ff0000"/>
<rect x="497" y="371" width="7" height="1" fill="#ff0000"/>
<rect x="500" y="368" width="1" height="7" fill="#ff0000"/>
<rect x="497" y="391" width="7" height="1" fill="#ff0000"/>
<rect x="500" y="388" width="1" height="7" fill="#ff0000"/>
<rect x="497" y="410" width="7" height="1" fill="#ff0000"/>
<rect x="500" y="407" width="1" height="7" fill="#ff0000"/>
<rect x="69" y="138" width="471" height="1" fill="#ff0000"/>
<rect x="69" y="235" width="471" height="1" fill="#ff0000"/>
<rect x="69" y="332" width="471" height="1" fill="#ff0000"/>
<rect x="534" y="61" width="11" height="1" fill="#ff0000"/>
<rect x="534" y="80" width="11" height="1" fill="#ff0000"/>
<rect x="534" y="100" width="11" height="1" fill="#ff0000"/>
<rect x="534" y="119" width="11" height="1" fill="#ff0000"/>
<rect x="534" y="138" width="11" height="1" fill="#ff0000"/>
<rect x="534" y="171" width="11" height="1" fill="#ff0000"/>
<rect x="534" y="203" width="11" height="1" fill="#ff0000"/>
<rect x="534" y="235" width="11" height="1" fill="#ff0000"/>
<rect x="534" y="245" width="11" height="1" fill="#ff0000"/>
<rect x="534" y="255" width="11" height="1" fill="#ff0000"/>
<rect x="534" y="265" width="11" height="1" fill="#ff0000"/>
<rect x="534" y="274" width="11" height="1" fill="#ff0000"/>
<rect x="534" y="284" width="11" height="1" fill="#ff0000"/>
<rect x="534" y="294" width="11" height="1" fill="#ff0000"/>
<rect x="534" y="303" width="11" height="1" fill="#ff0000"/>
<rect x="534" y="313" width="11" height="1" fill="#ff0000"/>
<rect x="534" y="323" width="11" height="1" fill="#ff0000"/>
<rect x="534" y="332" width="11" height="1" fill="#ff0000"/>
<rect x="534" y="352" width="11" height="1" fill="#ff0000"/>
<rect x="534" y="371" width="11" height="1" fill="#ff0000"/>
<rect x="534" y="391" width="11" height="1" fill="#ff0000"/>
<rect x="534" y="410" width="11" height="1" fill="#ff0000"/>
<rect x="534" y="429" width="11" height="1" fill="#ff0000"/>
<rect x="69" y="39" width="471" height="3" fill="#ff0000"/>
<rect x="69" y="427" width="471" height="3" fill="#ff0000"/>
<rect x="69" y="39" width="3" height="391" fill="#ff0000"/>
<rect x="537" y="39" width="3" height="391" fill="#ff0000"/>
<rect x="111" y="127" width="5" height="4" fill="#00ffff"/>
<rect x="122" y="121" width="5" height="4" fill="#00ffff"/>
<rect x="133" y="118" width="5" height="4" fill="#00ffff"/>
<rect x="144" y="114" width="5" height="4" fill="#00ffff"/>
<rect x="155" y="114" width="5" height="4" fill="#00ffff"/>
<rect x="168" y="111" width="4" height="4" fill="#00ffff"/>
<rect x="179" y="110" width="4" height="4" fill="#00ffff"/>
<rect x="189" y="114" width="4" height="4" fill="#00ffff"/>
<rect x="200" y="112" width="5" height="4" fill="#00ffff"/>
<rect x="211" y="112" width="5" height="4" fill="#00ffff"/>
<rect x="223" y="106" width="4" height="4" fill="#00ffff"/>
<rect x="222" y="107" width="4" height="4" fill="#00ffff"/>
<rect x="234" y="100" width="4" height="4" fill="#00ffff"/>
<rect x="233" y="101" width="4" height="4" fill="#00ffff"/>
<rect x="245" y="101" width="4" height="4" fill="#00ffff"/>
<rect x="255" y="99" width="5" height="4" fill="#00ffff"/>
<rect x="267" y="99" width="4" height="4" fill="#00ffff"/>
<rect x="278" y="97" width="4" height="4" fill="#00ffff"/>
<rect x="289" y="98" width="4" height="4" fill="#00ffff"/>
<rect x="299" y="101" width="6" height="4" fill="#00ffff"/>
<rect x="310" y="101" width="5" height="4" fill="#00ffff"/>
<rect x="322" y="101" width="4" height="4" fill="#00ffff"/>
<rect x="333" y="103" width="5" height="4" fill="#00ffff"/>
<rect x="344" y="105" width="4" height="4" fill="#00ffff"/>
<rect x="345" y="106" width="4" height="4" fill="#00ffff"/>
<rect x="354" y="106" width="5" height="4" fill="#00ffff"/>
<rect x="355" y="107" width="5" height="4" fill="#00ffff"/>
<rect x="367" y="108" width="4" height="4" fill="#00ffff"/>
<rect x="378" y="109" width="5" height="4" fill="#00ffff"/>
<rect x="389" y="110" width="5" height="4" fill="#00ffff"/>
<rect x="400" y="111" width="4" height="4" fill="#00ffff"/>
<rect x="412" y="111" width="4" height="4" fill="#00ffff"/>
<rect x="419" y="111" width="4" height="4" fill="#00ffff"/>
<rect x="421" y="112" width="6" height="4" fill="#00ffff"/>
<rect x="433" y="110" width="5" height="4" fill="#00ffff"/>
<rect x="444" y="111" width="5" height="4" fill="#00ffff"/>
<rect x="452" y="112" width="8" height="4" fill="#00ffff"/>
<rect x="466" y="113" width="5" height="4" fill="#00ffff"/>
<rect x="478" y="115" width="4" height="4" fill="#00ffff"/>
<rect x="289" y="60" width="4" height="4" fill="#00ffff"/>
<rect x="111" y="230" width="5" height="4" fill="#ffff00"/>
<rect x="122" y="227" width="5" height="4" fill="#ffff00"/>
<rect x="134" y="225" width="4" height="4" fill="#ffff00"/>
<rect x="133" y="226" width="4" height="4" fill="#ffff00"/>
<rect x="144" y="226" width="5" height="4" fill="#ffff00"/>
<rect x="155" y="224" width="5" height="4" fill="#ffff00"/>
<rect x="168" y="220" width="4" height="4" fill="#ffff00"/>
<rect x="179" y="221" width="4" height="4" fill="#ffff00"/>
<rect x="189" y="214" width="4" height="4" fill="#ffff00"/>
<rect x="200" y="215" width="5" height="4" fill="#ffff00"/>
<rect x="211" y="205" width="5" height="4" fill="#ffff00"/>
<rect x="222" y="201" width="4" height="4" fill="#ffff00"/>
<rect x="223" y="202" width="4" height="4" fill="#ffff00"/>
<rect x="234" y="195" width="4" height="4" fill="#ffff00"/>
<rect x="233" y="196" width="4" height="4" fill="#ffff00"/>
<rect x="245" y="187" width="4" height="4" fill="#ffff00"/>
<rect x="256" y="182" width="4" height="4" fill="#ffff00"/>
<rect x="255" y="183" width="4" height="4" fill="#ffff00"/>
<rect x="267" y="175" width="4" height="4" fill="#ffff00"/>
<rect x="278" y="178" width="4" height="4" fill="#ffff00"/>
<rect x="289" y="170" width="4" height="4" fill="#ffff00"/>
<rect x="299" y="169" width="6" height="4" fill="#ffff00"/>
<rect x="310" y="166" width="4" height="4" fill="#ffff00"/>
<rect x="311" y="168" width="4" height="4" fill="#ffff00"/>
<rect x="322" y="165" width="4" height="4" fill="#ffff00"/>
<rect x="333" y="166" width="4" height="4" fill="#ffff00"/>
<rect x="334" y="167" width="4" height="4" fill="#ffff00"/>
<rect x="344" y="167" width="5" height="4" fill="#ffff00"/>
<rect x="354" y="170" width="6" height="4" fill="#ffff00"/>
<rect x="367" y="173" width="4" height="4" fill="#ffff00"/>
<rect x="378" y="175" width="5" height="4" fill="#ffff00"/>
<rect x="389" y="176" width="4" height="4" fill="#ffff00"/>
<rect x="390" y="177" width="4" height="4" fill="#ffff00"/>
<rect x="400" y="180" width="4" height="4" fill="#ffff00"/>
<rect x="412" y="180" width="4" height="4" fill="#ffff00"/>
<rect x="419" y="185" width="8" height="4" fill="#ffff00"/>
<rect x="433" y="191" width="4" height="4" fill="#ffff00"/>
<rect x="434" y="192" width="4" height="4" fill="#ffff00"/>
<rect x="444" y="195" width="5" height="4" fill="#ffff00"/>
<rect x="452" y="196" width="4" height="4" fill="#ffff00"/>
<rect x="455" y="197" width="5" height="3" fill="#ffff00"/>
<rect x="456" y="200" width="4" height="2" fill="#ffff00"/>
<rect x="466" y="203" width="4" height="4" fill="#ffff00"/>
<rect x="467" y="205" width="4" height="4" fill="#ffff00"/>
<rect x="478" y="207" width="4" height="4" fill="#ffff00"/>
<rect x="111" y="413" width="5" height="4" fill="#00ff00"/>
<rect x="122" y="409" width="4" height="4" fill="#00ff00"/>
<rect x="123" y="413" width="4" height="4" fill="#00ff00"/>
<rect x="133" y="409" width="5" height="4" fill="#00ff00"/>
<rect x="144" y="409" width="5" height="4" fill="#00ff00"/>
<rect x="156" y="405" width="4" height="4" fill="#00ff00"/>
<rect x="155" y="409" width="4" height="4" fill="#00ff00"/>
<rect x="168" y="405" width="4" height="4" fill="#00ff00"/>
<rect x="179" y="397" width="4" height="4" fill="#00ff00"/>
<rect x="189" y="394" width="4" height="4" fill="#00ff00"/>
<rect x="200" y="405" width="5" height="4" fill="#00ff00"/>
<rect x="211" y="401" width="4" height="4" fill="#00ff00"/>
<rect x="212" y="405" width="4" height="4" fill="#00ff00"/>
<rect x="223" y="397" width="4" height="4" fill="#00ff00"/>
<rect x="222" y="401" width="4" height="4" fill="#00ff00"/>
<rect x="233" y="390" width="4" height="4" fill="#00ff00"/>
<rect x="234" y="382" width="4" height="4" fill="#00ff00"/>
<rect x="245" y="359" width="4" height="4" fill="#00ff00"/>
<rect x="255" y="374" width="5" height="4" fill="#00ff00"/>
<rect x="267" y="390" width="4" height="4" fill="#00ff00"/>
<rect x="278" y="390" width="4" height="4" fill="#00ff00"/>
<rect x="289" y="413" width="4" height="4" fill="#00ff00"/>
<rect x="299" y="401" width="4" height="4" fill="#00ff00"/>
<rect x="301" y="405" width="4" height="4" fill="#00ff00"/>
<rect x="310" y="409" width="4" height="4" fill="#00ff00"/>
<rect x="311" y="417" width="4" height="4" fill="#00ff00"/>
<rect x="322" y="409" width="4" height="4" fill="#00ff00"/>
<rect x="333" y="397" width="5" height="4" fill="#00ff00"/>
<rect x="345" y="374" width="4" height="4" fill="#00ff00"/>
<rect x="344" y="378" width="4" height="4" fill="#00ff00"/>
<rect x="354" y="370" width="4" height="4" fill="#00ff00"/>
<rect x="355" y="374" width="5" height="4" fill="#00ff00"/>
<rect x="367" y="374" width="4" height="4" fill="#00ff00"/>
<rect x="378" y="378" width="5" height="4" fill="#00ff00"/>
<rect x="389" y="390" width="5" height="4" fill="#00ff00"/>
<rect x="400" y="390" width="4" height="4" fill="#00ff00"/>
<rect x="412" y="397" width="4" height="4" fill="#00ff00"/>
<rect x="419" y="401" width="8" height="4" fill="#00ff00"/>
<rect x="433" y="397" width="4" height="4" fill="#00ff00"/>
<rect x="434" y="401" width="4" height="4" fill="#00ff00"/>
<rect x="445" y="413" width="4" height="4" fill="#00ff00"/>
<rect x="444" y="417" width="4" height="4" fill="#00ff00"/>
<rect x="452" y="409" width="4" height="4" fill="#00ff00"/>
<rect x="456" y="417" width="4" height="4" fill="#00ff00"/>
<rect x="455" y="421" width="4" height="4" fill="#00ff00"/>
<rect x="466" y="413" width="5" height="4" fill="#00ff00"/>
<rect x="478" y="421" width="4" height="4" fill="#00ff00"/>
<path d="M112.5 313.5L116.5 301.5M111.5 304.0L116.5 301.5L119.0 306.5M113.5 314.5L117.5 302.5M112.5 305.0L117.5 302.5L120.0 307.5M123.5 305.5L128.5 292.5M123.4 294.8L128.5 292.5L130.8 297.6M124.5 305.5L127.5 295.5M122.6 298.2L127.5 295.5L130.2 300.4M136.5 298.5L137.5 286.5M133.2 290.1L137.5 286.5L141.1 290.8M135.5 302.5L136.5 289.5M132.2 293.1L136.5 289.5L140.1 293.8M147.5 292.5L147.5 280.5M143.5 284.5L147.5 280.5L151.5 284.5M146.5 298.5L147.5 286.5M143.2 290.1L147.5 286.5L151.1 290.8M157.5 300.5L158.5 288.5M154.2 292.1L158.5 288.5L162.1 292.8M156.5 305.5L158.5 292.5M154.0 295.8L158.5 292.5L161.8 297.0M169.5 297.5L170.5 285.5M166.2 289.1L170.5 285.5L174.1 289.8M180.5 280.5L181.5 267.5M177.2 271.1L181.5 267.5L185.1 271.8M190.5 331.5L187.5 319.5M184.6 324.3L187.5 319.5L192.3 322.4M201.5 301.5L201.5 288.5M197.5 292.5L201.5 288.5L205.5 292.5M202.5 301.5L202.5 289.5M198.5 293.5L202.5 289.5L206.5 293.5M212.5 311.5L206.5 300.5M204.9 305.9L206.5 300.5L211.9 302.1M214.5 310.5L208.5 299.5M206.9 304.9L208.5 299.5L213.9 301.1M224.5 292.5L220.5 280.5M218.0 285.5L220.5 280.5L225.5 283.0M224.5 288.5L220.5 275.5M217.9 280.4L220.5 275.5L225.4 278.1M235.5 266.5L231.5 254.5M229.0 259.5L231.5 254.5L236.5 257.0M235.5 269.5L232.5 258.5M229.7 263.4L232.5 258.5L237.4 261.3M246.5 268.5L242.5 256.5M240.0 261.5L242.5 256.5L247.5 259.0M257.5 262.5L253.5 249.5M250.9 254.4L253.5 249.5L258.4 252.1M258.5 268.5L255.5 256.5M252.6 261.3L255.5 256.5L260.3 259.4M268.5 293.5L266.5 281.5M263.2 286.1L266.5 281.5L271.1 284.8M279.5 279.5L276.5 267.5M273.6 272.3L276.5 267.5L281.3 270.4M290.5 283.5L283.5 274.5M282.8 280.1L283.5 274.5L289.1 275.2M302.5 286.5L295.5 275.5M294.3 281.0L295.5 275.5L301.0 276.7M302.5 286.5L296.5 277.5M295.4 283.0L296.5 277.5L302.0 278.6M312.5 269.5L309.5 257.5M306.6 262.3L309.5 257.5L314.3 260.4M312.5 274.5L308.5 262.5M306.0 267.5L308.5 262.5L313.5 265.0M324.5 268.5L318.5 257.5M316.9 262.9L318.5 257.5L323.9 259.1M335.5 266.5L332.5 254.5M329.6 259.3L332.5 254.5L337.3 257.4M335.5 272.5L331.5 259.5M328.9 264.4L331.5 259.5L336.4 262.1M346.5 280.5L340.5 268.5M338.7 273.8L340.5 268.5L345.8 270.3M356.5 268.5L351.5 256.5M349.4 261.7L351.5 256.5L356.7 258.6M357.5 271.5L352.5 259.5M350.4 264.7L352.5 259.5L357.7 261.6M358.5 273.5L353.5 261.5M351.4 266.7L353.5 261.5L358.7 263.6M369.5 268.5L364.5 255.5M362.2 260.6L364.5 255.5L369.6 257.8M381.5 250.5L376.5 238.5M374.4 243.7L376.5 238.5L381.7 240.6M380.5 255.5L375.5 243.5M373.4 248.7L375.5 243.5L380.7 245.6M391.5 273.5L387.5 261.5M385.0 266.5L387.5 261.5L392.5 264.0M390.5 279.5L385.5 267.5M383.4 272.7L385.5 267.5L390.7 269.6M402.5 273.5L397.5 261.5M395.4 266.7L397.5 261.5L402.7 263.6M413.5 262.5L412.5 250.5M408.9 254.8L412.5 250.5L416.8 254.1M420.5 263.5L418.5 250.5M415.2 255.0L418.5 250.5L423.0 253.8M423.5 263.5L421.5 250.5M418.2 255.0L421.5 250.5L426.0 253.8M424.5 266.5L422.5 254.5M419.2 259.1L422.5 254.5L427.1 257.8M435.5 248.5L432.5 236.5M429.6 241.3L432.5 236.5L437.3 239.4M436.5 248.5L433.5 236.5M430.6 241.3L433.5 236.5L438.3 239.4M445.5 254.5L444.5 242.5M440.9 246.8L444.5 242.5L448.8 246.1M445.5 259.5L443.5 247.5M440.2 252.1L443.5 247.5L448.1 250.8M453.5 260.5L452.5 247.5M448.9 251.8L452.5 247.5L456.8 251.1M457.5 262.5L457.5 250.5M453.5 254.5L457.5 250.5L461.5 254.5M457.5 271.5L457.5 259.5M453.5 263.5L457.5 259.5L461.5 263.5M468.5 258.5L469.5 246.5M465.2 250.1L469.5 246.5L473.1 250.8M479.5 281.5L479.5 269.5M475.5 273.5L479.5 269.5L483.5 273.5" stroke="#ffff00" stroke-width="1" fill="none" stroke-linecap="square"/>
<defs>
<filter id="t50" filterUnits="userSpaceOnUse" x="0" y="0" width="640" height="480" color-interpolation-filters="sRGB"><feComponentTransfer><feFuncA type="discrete" tableValues="0 1"/></feComponentTransfer></filter>
<filter id="t20" filterUnits="userSpaceOnUse" x="0" y="0" width="640" height="480" color-interpolation-filters="sRGB"><feComponentTransfer><feFuncA type="discrete" tableValues="0 1 1 1 1"/></feComponentTransfer></filter>
<filter id="t33" filterUnits="userSpaceOnUse" x="0" y="0" width="640" height="480" color-interpolation-filters="sRGB"><feComponentTransfer><feFuncA type="discrete" tableValues="0 1 1"/></feComponentTransfer></filter>
</defs>
<g xml:space="preserve">
<text fill="#ffff00" filter="url(#t50)"><tspan x="69" y="23"> </tspan><tspan x="77" y="23"> </tspan><tspan x="84.000" y="23" font-family="Liberation Sans, sans-serif" font-size="13.08px">8</tspan><tspan x="92.625" y="23" font-family="Liberation Sans, sans-serif" font-size="13.08px">9</tspan><tspan x="100.375" y="23" font-family="Liberation Sans, sans-serif" font-size="13.08px">3</tspan><tspan x="108.250" y="23" font-family="Liberation Sans, sans-serif" font-size="13.08px">4</tspan><tspan x="117" y="23"> </tspan><tspan x="125" y="23"> </tspan><tspan x="133" y="23"> </tspan><tspan x="141" y="23"> </tspan><tspan x="149" y="23"> </tspan><tspan x="157" y="23"> </tspan><tspan x="165" y="23"> </tspan><tspan x="173" y="23"> </tspan><tspan x="181" y="23"> </tspan><tspan x="189" y="23"> </tspan><tspan x="197" y="23"> </tspan><tspan x="205" y="23"> </tspan><tspan x="213" y="23"> </tspan><tspan x="221" y="23"> </tspan><tspan x="229" y="23"> </tspan><tspan x="237" y="23"> </tspan><tspan x="245" y="23"> </tspan><tspan x="253" y="23"> </tspan><tspan x="261" y="23"> </tspan><tspan x="268.625" y="23" font-family="Liberation Sans, sans-serif" font-size="13.08px">7</tspan><tspan x="276.625" y="23" font-family="Liberation Sans, sans-serif" font-size="13.08px">9</tspan><tspan x="283.08" y="23" font-family="Liberation Sans, sans-serif" font-size="21.01px">.</tspan><tspan x="292.625" y="23" font-family="Liberation Sans, sans-serif" font-size="13.08px">9</tspan><tspan x="300.375" y="23" font-family="Liberation Sans, sans-serif" font-size="13.08px">1</tspan><tspan x="308.375" y="23" font-family="Liberation Mono, monospace" font-size="13.66px">S</tspan><tspan x="317" y="23"> </tspan><tspan x="325" y="23"> </tspan><tspan x="332.375" y="23" font-family="Liberation Sans, sans-serif" font-size="13.08px">1</tspan><tspan x="340.625" y="23" font-family="Liberation Sans, sans-serif" font-size="13.08px">6</tspan><tspan x="348.000" y="23" font-family="Liberation Sans, sans-serif" font-size="13.08px">5</tspan><tspan x="355.08" y="23" font-family="Liberation Sans, sans-serif" font-size="21.01px">.</tspan><tspan x="364.625" y="23" font-family="Liberation Sans, sans-serif" font-size="13.08px">6</tspan><tspan x="372.625" y="23" font-family="Liberation Sans, sans-serif" font-size="13.08px">6</tspan><tspan x="379.875" y="23" font-family="Liberation Mono, monospace" font-size="13.66px">E</tspan><tspan x="389" y="23"> </tspan><tspan x="397" y="23"> </tspan><tspan x="405" y="23"> </tspan><tspan x="413" y="23"> </tspan><tspan x="420.625" y="23" font-family="Liberation Sans, sans-serif" font-size="13.08px">6</tspan><tspan x="428.375" y="23" font-family="Liberation Sans, sans-serif" font-size="13.08px">3</tspan><tspan x="435.750" y="23" font-family="Liberation Mono, monospace" font-size="13.66px">M</tspan></text>
<text fill="#ffff00" filter="url(#t50)"><tspan x="68.250" y="36" font-family="Liberation Sans, sans-serif" font-size="13.08px">0</tspan><tspan x="76.000" y="36" font-family="Liberation Sans, sans-serif" font-size="13.08px">5</tspan><tspan x="85" y="36"> </tspan><tspan x="91.750" y="36" font-family="Liberation Mono, monospace" font-size="13.66px">M</tspan><tspan x="99.750" y="36" font-family="Liberation Mono, monospace" font-size="13.66px">a</tspan><tspan x="107.500" y="36" font-family="Liberation Mono, monospace" font-size="13.66px">y</tspan><tspan x="117" y="36"> </tspan><tspan x="124.000" y="36" font-family="Liberation Sans, sans-serif" font-size="13.08px">2</tspan><tspan x="132.250" y="36" font-family="Liberation Sans, sans-serif" font-size="13.08px">0</tspan><tspan x="140.375" y="36" font-family="Liberation Sans, sans-serif" font-size="13.08px">1</tspan><tspan x="148.000" y="36" font-family="Liberation Sans, sans-serif" font-size="13.08px">5</tspan><tspan x="155.500" y="36" font-family="Liberation Mono, monospace" font-size="13.66px">/</tspan><tspan x="164.375" y="36" font-family="Liberation Sans, sans-serif" font-size="13.08px">1</tspan><tspan x="172.000" y="36" font-family="Liberation Sans, sans-serif" font-size="13.08px">2</tspan><tspan x="180.250" y="36" font-family="Liberation Sans, sans-serif" font-size="13.08px">0</tspan><tspan x="188.250" y="36" font-family="Liberation Sans, sans-serif" font-size="13.08px">0</tspan><tspan x="196.250" y="36" font-family="Liberation Sans, sans-serif" font-size="13.08px">0</tspan><tspan x="204.250" y="36" font-family="Liberation Sans, sans-serif" font-size="13.08px">0</tspan><tspan x="211.875" y="36" font-family="Liberation Mono, monospace" font-size="13.66px">U</tspan><tspan x="220.125" y="36" font-family="Liberation Mono, monospace" font-size="13.66px">T</tspan><tspan x="227.750" y="36" font-family="Liberation Mono, monospace" font-size="13.66px">C</tspan><tspan x="237" y="36"> </tspan><tspan x="241.79" y="37.00" font-family="Liberation Mono, monospace" font-size="20.71px">-</tspan><tspan x="253" y="36"> </tspan><tspan x="260.250" y="36" font-family="Liberation Sans, sans-serif" font-size="13.08px">0</tspan><tspan x="268.000" y="36" font-family="Liberation Sans, sans-serif" font-size="13.08px">8</tspan><tspan x="277" y="36"> </tspan><tspan x="283.750" y="36" font-family="Liberation Mono, monospace" font-size="13.66px">M</tspan><tspan x="291.750" y="36" font-family="Liberation Mono, monospace" font-size="13.66px">a</tspan><tspan x="299.500" y="36" font-family="Liberation Mono, monospace" font-size="13.66px">y</tspan><tspan x="309" y="36"> </tspan><tspan x="316.000" y="36" font-family="Liberation Sans, sans-serif" font-size="13.08px">2</tspan><tspan x="324.250" y="36" font-family="Liberation Sans, sans-serif" font-size="13.08px">0</tspan><tspan x="332.375" y="36" font-family="Liberation Sans, sans-serif" font-size="13.08px">1</tspan><tspan x="340.000" y="36" font-family="Liberation Sans, sans-serif" font-size="13.08px">5</tspan><tspan x="347.500" y="36" font-family="Liberation Mono, monospace" font-size="13.66px">/</tspan><tspan x="356.250" y="36" font-family="Liberation Sans, sans-serif" font-size="13.08px">0</tspan><tspan x="364.250" y="36" font-family="Liberation Sans, sans-serif" font-size="13.08px">0</tspan><tspan x="372.250" y="36" font-family="Liberation Sans, sans-serif" font-size="13.08px">0</tspan><tspan x="380.250" y="36" font-family="Liberation Sans, sans-serif" font-size="13.08px">0</tspan><tspan x="388.250" y="36" font-family="Liberation Sans, sans-serif" font-size="13.08px">0</tspan><tspan x="396.250" y="36" font-family="Liberation Sans, sans-serif" font-size="13.08px">0</tspan><tspan x="403.875" y="36" font-family="Liberation Mono, monospace" font-size="13.66px">U</tspan><tspan x="412.125" y="36" font-family="Liberation Mono, monospace" font-size="13.66px">T</tspan><tspan x="419.750" y="36" font-family="Liberation Mono, monospace" font-size="13.66px">C</tspan></text>
<text fill="#ffff00" filter="url(#t50)"><tspan x="60.250" y="448" font-family="Liberation Sans, sans-serif" font-size="13.08px">0</tspan><tspan x="68.625" y="448" font-family="Liberation Sans, sans-serif" font-size="13.08px">6</tspan></text>
<text fill="#ffff00" filter="url(#t50)"><tspan x="99.375" y="448" font-family="Liberation Sans, sans-serif" font-size="13.08px">1</tspan><tspan x="107.000" y="448" font-family="Liberation Sans, sans-serif" font-size="13.08px">2</tspan></text>
<text fill="#ffff00" filter="url(#t50)"><tspan x="138.375" y="448" font-family="Liberation Sans, sans-serif" font-size="13.08px">1</tspan><tspan x="146.000" y="448" font-family="Liberation Sans, sans-serif" font-size="13.08px">8</tspan></text>
<text fill="#ffff00" filter="url(#t50)"><tspan x="177.250" y="448" font-family="Liberation Sans, sans-serif" font-size="13.08px">0</tspan><tspan x="185.250" y="448" font-family="Liberation Sans, sans-serif" font-size="13.08px">0</tspan></text>
<text fill="#ffff00" filter="url(#t50)"><tspan x="216.250" y="448" font-family="Liberation Sans, sans-serif" font-size="13.08px">0</tspan><tspan x="224.625" y="448" font-family="Liberation Sans, sans-serif" font-size="13.08px">6</tspan></text>
<text fill="#ffff00" filter="url(#t50)"><tspan x="256.375" y="448" font-family="Liberation Sans, sans-serif" font-size="13.08px">1</tspan><tspan x="264.000" y="448" font-family="Liberation Sans, sans-serif" font-size="13.08px">2</tspan></text>
<text fill="#ffff00" filter="url(#t50)"><tspan x="295.375" y="448" font-family="Liberation Sans, sans-serif" font-size="13.08px">1</tspan><tspan x="303.000" y="448" font-family="Liberation Sans, sans-serif" font-size="13.08px">8</tspan></text>
<text fill="#ffff00" filter="url(#t50)"><tspan x="334.250" y="448" font-family="Liberation Sans, sans-serif" font-size="13.08px">0</tspan><tspan x="342.250" y="448" font-family="Liberation Sans, sans-serif" font-size="13.08px">0</tspan></text>
<text fill="#ffff00" filter="url(#t50)"><tspan x="373.250" y="448" font-family="Liberation Sans, sans-serif" font-size="13.08px">0</tspan><tspan x="381.625" y="448" font-family="Liberation Sans, sans-serif" font-size="13.08px">6</tspan></text>
<text fill="#ffff00" filter="url(#t50)"><tspan x="412.375" y="448" font-family="Liberation Sans, sans-serif" font-size="13.08px">1</tspan><tspan x="420.000" y="448" font-family="Liberation Sans, sans-serif" font-size="13.08px">2</tspan></text>
<text fill="#ffff00" filter="url(#t50)"><tspan x="452.375" y="448" font-family="Liberation Sans, sans-serif" font-size="13.08px">1</tspan><tspan x="460.000" y="448" font-family="Liberation Sans, sans-serif" font-size="13.08px">8</tspan></text>
<text fill="#ffff00" filter="url(#t50)"><tspan x="491.250" y="448" font-family="Liberation Sans, sans-serif" font-size="13.08px">0</tspan><tspan x="499.250" y="448" font-family="Liberation Sans, sans-serif" font-size="13.08px">0</tspan></text>
<text fill="#ffff00" filter="url(#t50)"><tspan x="530.250" y="448" font-family="Liberation Sans, sans-serif" font-size="13.08px">0</tspan><tspan x="538.625" y="448" font-family="Liberation Sans, sans-serif" font-size="13.08px">6</tspan></text>
<text fill="#ffff00" filter="url(#t50)"><tspan x="161.250" y="461" font-family="Liberation Sans, sans-serif" font-size="13.08px">0</tspan><tspan x="169.625" y="461" font-family="Liberation Sans, sans-serif" font-size="13.08px">6</tspan><tspan x="178" y="461"> </tspan><tspan x="184.750" y="461" font-family="Liberation Mono, monospace" font-size="13.66px">M</tspan><tspan x="192.750" y="461" font-family="Liberation Mono, monospace" font-size="13.66px">a</tspan><tspan x="200.500" y="461" font-family="Liberation Mono, monospace" font-size="13.66px">y</tspan></text>
<text fill="#ffff00" filter="url(#t50)"><tspan x="318.250" y="461" font-family="Liberation Sans, sans-serif" font-size="13.08px">0</tspan><tspan x="326.625" y="461" font-family="Liberation Sans, sans-serif" font-size="13.08px">7</tspan><tspan x="335" y="461"> </tspan><tspan x="341.750" y="461" font-family="Liberation Mono, monospace" font-size="13.66px">M</tspan><tspan x="349.750" y="461" font-family="Liberation Mono, monospace" font-size="13.66px">a</tspan><tspan x="357.500" y="461" font-family="Liberation Mono, monospace" font-size="13.66px">y</tspan></text>
<text fill="#ffff00" filter="url(#t50)"><tspan x="475.250" y="461" font-family="Liberation Sans, sans-serif" font-size="13.08px">0</tspan><tspan x="483.000" y="461" font-family="Liberation Sans, sans-serif" font-size="13.08px">8</tspan><tspan x="492" y="461"> </tspan><tspan x="498.750" y="461" font-family="Liberation Mono, monospace" font-size="13.66px">M</tspan><tspan x="506.750" y="461" font-family="Liberation Mono, monospace" font-size="13.66px">a</tspan><tspan x="514.500" y="461" font-family="Liberation Mono, monospace" font-size="13.66px">y</tspan></text>
<text fill="#ffff00" filter="url(#t50)"><tspan x="15.8" y="478" font-family="Liberation Sans, sans-serif" font-size="11.5px">2</tspan></text>
<text fill="#ff0000" filter="url(#t33)"><tspan x="565.750" y="65" font-family="Liberation Sans, sans-serif" font-size="10.1px">0</tspan><tspan x="570.08" y="65" font-family="Liberation Sans, sans-serif" font-size="21.01px">.</tspan><tspan x="577.750" y="65" font-family="Liberation Sans, sans-serif" font-size="10.1px">0</tspan></text>
<text fill="#ff0000" filter="url(#t33)"><tspan x="551.42" y="85.00" font-family="Liberation Mono, monospace" font-size="16.94px">-</tspan><tspan x="559.625" y="84" font-family="Liberation Sans, sans-serif" font-size="10.1px">1</tspan><tspan x="565.750" y="84" font-family="Liberation Sans, sans-serif" font-size="10.1px">0</tspan><tspan x="570.08" y="84" font-family="Liberation Sans, sans-serif" font-size="21.01px">.</tspan><tspan x="577.750" y="84" font-family="Liberation Sans, sans-serif" font-size="10.1px">0</tspan></text>
<text fill="#ff0000" filter="url(#t33)"><tspan x="551.42" y="105.00" font-family="Liberation Mono, monospace" font-size="16.94px">-</tspan><tspan x="559.875" y="104" font-family="Liberation Sans, sans-serif" font-size="10.1px">2</tspan><tspan x="565.750" y="104" font-family="Liberation Sans, sans-serif" font-size="10.1px">0</tspan><tspan x="570.08" y="104" font-family="Liberation Sans, sans-serif" font-size="21.01px">.</tspan><tspan x="577.750" y="104" font-family="Liberation Sans, sans-serif" font-size="10.1px">0</tspan></text>
<text fill="#ff0000" filter="url(#t33)"><tspan x="551.42" y="124.00" font-family="Liberation Mono, monospace" font-size="16.94px">-</tspan><tspan x="559.875" y="123" font-family="Liberation Sans, sans-serif" font-size="10.1px">3</tspan><tspan x="565.750" y="123" font-family="Liberation Sans, sans-serif" font-size="10.1px">0</tspan><tspan x="570.08" y="123" font-family="Liberation Sans, sans-serif" font-size="21.01px">.</tspan><tspan x="577.750" y="123" font-family="Liberation Sans, sans-serif" font-size="10.1px">0</tspan></text>
<text fill="#ff0000" filter="url(#t33)"><tspan x="551.42" y="143.00" font-family="Liberation Mono, monospace" font-size="16.94px">-</tspan><tspan x="559.500" y="142" font-family="Liberation Sans, sans-serif" font-size="10.1px">4</tspan><tspan x="565.750" y="142" font-family="Liberation Sans, sans-serif" font-size="10.1px">0</tspan><tspan x="570.08" y="142" font-family="Liberation Sans, sans-serif" font-size="21.01px">.</tspan><tspan x="577.750" y="142" font-family="Liberation Sans, sans-serif" font-size="10.1px">0</tspan></text>
<text fill="#ff0000" filter="url(#t33)"><tspan x="553.875" y="175" font-family="Liberation Sans, sans-serif" font-size="10.1px">9</tspan><tspan x="559.875" y="175" font-family="Liberation Sans, sans-serif" font-size="10.1px">9</tspan><tspan x="565.750" y="175" font-family="Liberation Sans, sans-serif" font-size="10.1px">0</tspan><tspan x="570.08" y="175" font-family="Liberation Sans, sans-serif" font-size="21.01px">.</tspan><tspan x="577.750" y="175" font-family="Liberation Sans, sans-serif" font-size="10.1px">0</tspan></text>
<text fill="#ff0000" filter="url(#t33)"><tspan x="553.875" y="207" font-family="Liberation Sans, sans-serif" font-size="10.1px">9</tspan><tspan x="559.250" y="207" font-family="Liberation Sans, sans-serif" font-size="10.1px">8</tspan><tspan x="565.250" y="207" font-family="Liberation Sans, sans-serif" font-size="10.1px">5</tspan><tspan x="570.08" y="207" font-family="Liberation Sans, sans-serif" font-size="21.01px">.</tspan><tspan x="577.750" y="207" font-family="Liberation Sans, sans-serif" font-size="10.1px">0</tspan></text>
<text fill="#ff0000" filter="url(#t33)"><tspan x="553.875" y="239" font-family="Liberation Sans, sans-serif" font-size="10.1px">9</tspan><tspan x="559.250" y="239" font-family="Liberation Sans, sans-serif" font-size="10.1px">8</tspan><tspan x="565.750" y="239" font-family="Liberation Sans, sans-serif" font-size="10.1px">0</tspan><tspan x="570.08" y="239" font-family="Liberation Sans, sans-serif" font-size="21.01px">.</tspan><tspan x="577.750" y="239" font-family="Liberation Sans, sans-serif" font-size="10.1px">0</tspan></text>
<text fill="#ff0000" filter="url(#t33)"><tspan x="559.625" y="249" font-family="Liberation Sans, sans-serif" font-size="10.1px">1</tspan><tspan x="565.875" y="249" font-family="Liberation Sans, sans-serif" font-size="10.1px">3</tspan><tspan x="570.08" y="249" font-family="Liberation Sans, sans-serif" font-size="21.01px">.</tspan><tspan x="577.750" y="249" font-family="Liberation Sans, sans-serif" font-size="10.1px">0</tspan></text>
<text fill="#ff0000" filter="url(#t33)"><tspan x="559.625" y="259" font-family="Liberation Sans, sans-serif" font-size="10.1px">1</tspan><tspan x="565.875" y="259" font-family="Liberation Sans, sans-serif" font-size="10.1px">2</tspan><tspan x="570.08" y="259" font-family="Liberation Sans, sans-serif" font-size="21.01px">.</tspan><tspan x="577.750" y="259" font-family="Liberation Sans, sans-serif" font-size="10.1px">0</tspan></text>
<text fill="#ff0000" filter="url(#t33)"><tspan x="559.625" y="269" font-family="Liberation Sans, sans-serif" font-size="10.1px">1</tspan><tspan x="565.625" y="269" font-family="Liberation Sans, sans-serif" font-size="10.1px">1</tspan><tspan x="570.08" y="269" font-family="Liberation Sans, sans-serif" font-size="21.01px">.</tspan><tspan x="577.750" y="269" font-family="Liberation Sans, sans-serif" font-size="10.1px">0</tspan></text>
<text fill="#ff0000" filter="url(#t33)"><tspan x="559.625" y="278" font-family="Liberation Sans, sans-serif" font-size="10.1px">1</tspan><tspan x="565.750" y="278" font-family="Liberation Sans, sans-serif" font-size="10.1px">0</tspan><tspan x="570.08" y="278" font-family="Liberation Sans, sans-serif" font-size="21.01px">.</tspan><tspan x="577.750" y="278" font-family="Liberation Sans, sans-serif" font-size="10.1px">0</tspan></text>
<text fill="#ff0000" filter="url(#t33)"><tspan x="565.875" y="288" font-family="Liberation Sans, sans-serif" font-size="10.1px">9</tspan><tspan x="570.08" y="288" font-family="Liberation Sans, sans-serif" font-size="21.01px">.</tspan><tspan x="577.750" y="288" font-family="Liberation Sans, sans-serif" font-size="10.1px">0</tspan></text>
<text fill="#ff0000" filter="url(#t33)"><tspan x="565.250" y="298" font-family="Liberation Sans, sans-serif" font-size="10.1px">8</tspan><tspan x="570.08" y="298" font-family="Liberation Sans, sans-serif" font-size="21.01px">.</tspan><tspan x="577.750" y="298" font-family="Liberation Sans, sans-serif" font-size="10.1px">0</tspan></text>
<text fill="#ff0000" filter="url(#t33)"><tspan x="565.875" y="307" font-family="Liberation Sans, sans-serif" font-size="10.1px">7</tspan><tspan x="570.08" y="307" font-family="Liberation Sans, sans-serif" font-size="21.01px">.</tspan><tspan x="577.750" y="307" font-family="Liberation Sans, sans-serif" font-size="10.1px">0</tspan></text>
<text fill="#ff0000" filter="url(#t33)"><tspan x="565.500" y="317" font-family="Liberation Sans, sans-serif" font-size="10.1px">6</tspan><tspan x="570.08" y="317" font-family="Liberation Sans, sans-serif" font-size="21.01px">.</tspan><tspan x="577.750" y="317" font-family="Liberation Sans, sans-serif" font-size="10.1px">0</tspan></text>
<text fill="#ff0000" filter="url(#t33)"><tspan x="565.250" y="327" font-family="Liberation Sans, sans-serif" font-size="10.1px">5</tspan><tspan x="570.08" y="327" font-family="Liberation Sans, sans-serif" font-size="21.01px">.</tspan><tspan x="577.750" y="327" font-family="Liberation Sans, sans-serif" font-size="10.1px">0</tspan></text>
<text fill="#ff0000" filter="url(#t33)"><tspan x="565.500" y="336" font-family="Liberation Sans, sans-serif" font-size="10.1px">4</tspan><tspan x="570.08" y="336" font-family="Liberation Sans, sans-serif" font-size="21.01px">.</tspan><tspan x="577.750" y="336" font-family="Liberation Sans, sans-serif" font-size="10.1px">0</tspan></text>
<text fill="#ff0000" filter="url(#t33)"><tspan x="559.250" y="356" font-family="Liberation Sans, sans-serif" font-size="10.1px">8</tspan><tspan x="565.750" y="356" font-family="Liberation Sans, sans-serif" font-size="10.1px">0</tspan><tspan x="570.08" y="356" font-family="Liberation Sans, sans-serif" font-size="21.01px">.</tspan><tspan x="577.750" y="356" font-family="Liberation Sans, sans-serif" font-size="10.1px">0</tspan></text>
<text fill="#ff0000" filter="url(#t33)"><tspan x="559.875" y="375" font-family="Liberation Sans, sans-serif" font-size="10.1px">7</tspan><tspan x="565.250" y="375" font-family="Liberation Sans, sans-serif" font-size="10.1px">5</tspan><tspan x="570.08" y="375" font-family="Liberation Sans, sans-serif" font-size="21.01px">.</tspan><tspan x="577.750" y="375" font-family="Liberation Sans, sans-serif" font-size="10.1px">0</tspan></text>
<text fill="#ff0000" filter="url(#t33)"><tspan x="559.875" y="395" font-family="Liberation Sans, sans-serif" font-size="10.1px">7</tspan><tspan x="565.750" y="395" font-family="Liberation Sans, sans-serif" font-size="10.1px">0</tspan><tspan x="570.08" y="395" font-family="Liberation Sans, sans-serif" font-size="21.01px">.</tspan><tspan x="577.750" y="395" font-family="Liberation Sans, sans-serif" font-size="10.1px">0</tspan></text>
<text fill="#ff0000" filter="url(#t33)"><tspan x="559.500" y="414" font-family="Liberation Sans, sans-serif" font-size="10.1px">6</tspan><tspan x="565.250" y="414" font-family="Liberation Sans, sans-serif" font-size="10.1px">5</tspan><tspan x="570.08" y="414" font-family="Liberation Sans, sans-serif" font-size="21.01px">.</tspan><tspan x="577.750" y="414" font-family="Liberation Sans, sans-serif" font-size="10.1px">0</tspan></text>
<text fill="#ff0000" filter="url(#t33)"><tspan x="559.500" y="433" font-family="Liberation Sans, sans-serif" font-size="10.1px">6</tspan><tspan x="565.750" y="433" font-family="Liberation Sans, sans-serif" font-size="10.1px">0</tspan><tspan x="570.08" y="433" font-family="Liberation Sans, sans-serif" font-size="21.01px">.</tspan><tspan x="577.750" y="433" font-family="Liberation Sans, sans-serif" font-size="10.1px">0</tspan></text>
<text fill="#ff0000" filter="url(#t33)"><tspan x="588.250" y="93" font-family="Liberation Mono, monospace" font-size="10.6px">T</tspan><tspan x="595.59" y="91.57" font-family="Liberation Mono, monospace" font-size="8.00px">(</tspan><tspan x="600.250" y="93" font-family="Liberation Mono, monospace" font-size="10.6px">C</tspan><tspan x="606.62" y="91.57" font-family="Liberation Mono, monospace" font-size="8.00px">)</tspan></text>
<text fill="#ff0000" filter="url(#t33)"><tspan x="588.125" y="190" font-family="Liberation Mono, monospace" font-size="10.6px">P</tspan><tspan x="594.375" y="190" font-family="Liberation Mono, monospace" font-size="10.6px">r</tspan><tspan x="600.250" y="190" font-family="Liberation Mono, monospace" font-size="10.6px">e</tspan><tspan x="607" y="190"> </tspan><tspan x="613.59" y="188.57" font-family="Liberation Mono, monospace" font-size="8.00px">(</tspan><tspan x="618.250" y="190" font-family="Liberation Mono, monospace" font-size="10.6px">m</tspan><tspan x="624.250" y="190" font-family="Liberation Mono, monospace" font-size="10.6px">b</tspan><tspan x="630.62" y="188.57" font-family="Liberation Mono, monospace" font-size="8.00px">)</tspan></text>
<text fill="#ff0000" filter="url(#t33)"><tspan x="588.250" y="287" font-family="Liberation Mono, monospace" font-size="10.6px">S</tspan><tspan x="594.125" y="287" font-family="Liberation Mono, monospace" font-size="10.6px">P</tspan><tspan x="600.125" y="287" font-family="Liberation Mono, monospace" font-size="10.6px">D</tspan><tspan x="607.59" y="285.57" font-family="Liberation Mono, monospace" font-size="8.00px">(</tspan><tspan x="612.375" y="287" font-family="Liberation Mono, monospace" font-size="10.6px">M</tspan><tspan x="618.125" y="287" font-family="Liberation Mono, monospace" font-size="10.6px">P</tspan><tspan x="624.250" y="287" font-family="Liberation Mono, monospace" font-size="10.6px">S</tspan><tspan x="630.62" y="285.57" font-family="Liberation Mono, monospace" font-size="8.00px">)</tspan></text>
<text fill="#ff0000" filter="url(#t33)"><tspan x="588.125" y="384" font-family="Liberation Mono, monospace" font-size="10.6px">R</tspan><tspan x="594.250" y="384" font-family="Liberation Mono, monospace" font-size="10.6px">H</tspan><tspan x="601.59" y="382.57" font-family="Liberation Mono, monospace" font-size="8.00px">(</tspan><tspan x="606.000" y="384" font-family="Liberation Mono, monospace" font-size="10.6px">%</tspan><tspan x="612.62" y="382.57" font-family="Liberation Mono, monospace" font-size="8.00px">)</tspan></text>
</g>
</svg>
</body></html>
